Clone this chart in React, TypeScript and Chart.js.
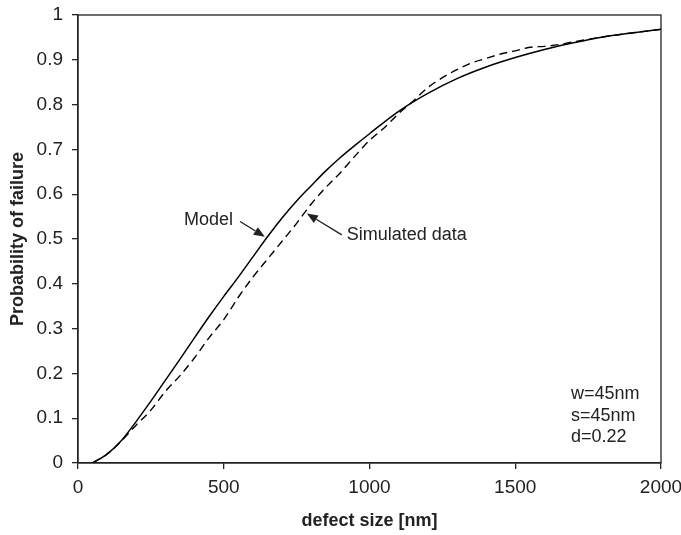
import React, { useEffect, useRef } from 'react';
import { Chart, registerables } from 'chart.js';

Chart.register(...registerables);

// Model curve (solid)
const modelX = [50, 100, 150, 200, 250, 300, 350, 400, 450, 500, 550, 600, 650, 700, 750, 800, 850, 900, 950, 1000, 1100, 1200, 1300, 1400, 1500, 1600, 1700, 1800, 1900, 2000];
const modelY = [0, 0.02, 0.051, 0.093, 0.138, 0.185, 0.232, 0.28, 0.327, 0.372, 0.415, 0.46, 0.505, 0.547, 0.585, 0.619, 0.652, 0.682, 0.709, 0.735, 0.785, 0.825, 0.858, 0.884, 0.905, 0.923, 0.938, 0.951, 0.96, 0.968];

// Simulated data (dashed)
const simX = [50, 100, 150, 200, 250, 300, 350, 400, 450, 500, 550, 600, 650, 700, 750, 800, 850, 900, 950, 1000, 1050, 1100, 1150, 1200, 1250, 1300, 1350, 1400, 1450, 1500, 1550, 1600, 1650, 1700, 1800, 1900, 2000];
const simY = [0, 0.02, 0.05, 0.085, 0.118, 0.16, 0.195, 0.235, 0.28, 0.32, 0.37, 0.415, 0.455, 0.495, 0.535, 0.578, 0.615, 0.648, 0.685, 0.72, 0.748, 0.78, 0.808, 0.838, 0.86, 0.878, 0.893, 0.903, 0.913, 0.92, 0.928, 0.93, 0.934, 0.94, 0.951, 0.96, 0.968];

const xTicks = [0, 500, 1000, 1500, 2000];
const yTicks = [0, 0.1, 0.2, 0.3, 0.4, 0.5, 0.6, 0.7, 0.8, 0.9, 1];
const paramLines = ['w=45nm', 's=45nm', 'd=0.22'];

const FONT = '"Liberation Sans", Arial, Helvetica, sans-serif';
const INK = '#222';

function arrow(ctx: CanvasRenderingContext2D, x1: number, y1: number, x2: number, y2: number) {
  const ang = Math.atan2(y2 - y1, x2 - x1);
  const len = 11;
  const hw = 4.5;
  const bx = x2 - len * Math.cos(ang);
  const by = y2 - len * Math.sin(ang);
  ctx.beginPath();
  ctx.moveTo(x1, y1);
  ctx.lineTo(bx, by);
  ctx.stroke();
  ctx.beginPath();
  ctx.moveTo(x2, y2);
  ctx.lineTo(bx + hw * Math.sin(ang), by - hw * Math.cos(ang));
  ctx.lineTo(bx - hw * Math.sin(ang), by + hw * Math.cos(ang));
  ctx.closePath();
  ctx.fill();
}

const annotPlugin = {
  id: 'annot',
  afterDraw(chart: any) {
    const { ctx, chartArea, scales } = chart;
    const x = scales.x;
    const y = scales.y;
    ctx.save();
    ctx.strokeStyle = INK;
    ctx.lineWidth = 1.3;
    ctx.strokeRect(chartArea.left, chartArea.top, chartArea.right - chartArea.left, chartArea.bottom - chartArea.top);

    ctx.fillStyle = INK;
    ctx.font = `18px ${FONT}`;
    ctx.textBaseline = 'middle';

    ctx.textAlign = 'right';
    ctx.fillText('Model', x.getPixelForValue(532), y.getPixelForValue(0.542));
    ctx.lineWidth = 1.4;
    arrow(ctx, x.getPixelForValue(556), y.getPixelForValue(0.539), x.getPixelForValue(641), y.getPixelForValue(0.505));

    ctx.textAlign = 'left';
    ctx.fillText('Simulated data', x.getPixelForValue(922), y.getPixelForValue(0.509));
    arrow(ctx, x.getPixelForValue(905), y.getPixelForValue(0.509), x.getPixelForValue(785), y.getPixelForValue(0.557));

    const py = [0.153, 0.105, 0.057];
    paramLines.forEach((t, i) => {
      ctx.fillText(t, x.getPixelForValue(1691), y.getPixelForValue(py[i]));
    });
    ctx.restore();
  },
};

export default function App() {
  const ref = useRef<HTMLCanvasElement>(null);

  useEffect(() => {
    document.body.style.margin = '0';
    const canvas = ref.current!;
    const chart = new Chart(canvas, {
      type: 'scatter',
      data: {
        datasets: [
          {
            label: 'Model',
            data: modelX.map((v, i) => ({ x: v, y: modelY[i] })),
            showLine: true,
            borderColor: '#000',
            borderWidth: 1.5,
            pointRadius: 0,
            cubicInterpolationMode: 'monotone',
            fill: false,
          },
          {
            label: 'Simulated data',
            data: simX.map((v, i) => ({ x: v, y: simY[i] })),
            showLine: true,
            borderColor: '#000',
            borderWidth: 1.4,
            borderDash: [8, 5],
            pointRadius: 0,
            cubicInterpolationMode: 'monotone',
            fill: false,
          },
        ],
      },
      options: {
        responsive: false,
        animation: false,
        layout: { padding: { left: 0, top: 15, right: 20, bottom: 0 } },
        plugins: {
          legend: { display: false },
          tooltip: { enabled: false },
        },
        scales: {
          x: {
            type: 'linear',
            min: 0,
            max: 2000,
            afterBuildTicks: (s: any) => {
              s.ticks = xTicks.map((v) => ({ value: v }));
            },
            afterFit: (s: any) => {
              s.height = 72;
              s.paddingLeft = 0;
              s.paddingRight = 0;
            },
            grid: { drawOnChartArea: false, drawTicks: true, tickLength: 6, color: INK, lineWidth: 1.3 },
            border: { display: true, color: INK, width: 1.3 },
            ticks: {
              color: INK,
              font: { family: FONT, size: 19 },
              padding: 7,
              maxRotation: 0,
              callback: (v: any) => String(v),
            },
            title: {
              display: true,
              text: 'defect size [nm]',
              color: INK,
              font: { family: FONT, size: 18, weight: 'bold' },
              padding: { top: 0, bottom: 3 },
            },
          },
          y: {
            type: 'linear',
            min: 0,
            max: 1,
            afterBuildTicks: (s: any) => {
              s.ticks = yTicks.map((v) => ({ value: v }));
            },
            afterFit: (s: any) => {
              s.width = 78;
              s.paddingTop = 0;
              s.paddingBottom = 0;
            },
            grid: { drawOnChartArea: false, drawTicks: true, tickLength: 6, color: INK, lineWidth: 1.3 },
            border: { display: true, color: INK, width: 1.3 },
            ticks: {
              color: INK,
              font: { family: FONT, size: 19 },
              padding: 9,
              callback: (v: any) => String(Math.round(v * 10) / 10),
            },
            title: {
              display: true,
              text: 'Probability of failure',
              color: INK,
              font: { family: FONT, size: 18, weight: 'bold' },
              padding: { top: 7, bottom: 0 },
            },
          },
        },
      },
      plugins: [annotPlugin],
    } as any);
    return () => chart.destroy();
  }, []);

  return (
    <div style={{ width: 681, height: 535, background: '#fff' }}>
      <canvas ref={ref} width={681} height={535} style={{ display: 'block' }} />
    </div>
  );
}
